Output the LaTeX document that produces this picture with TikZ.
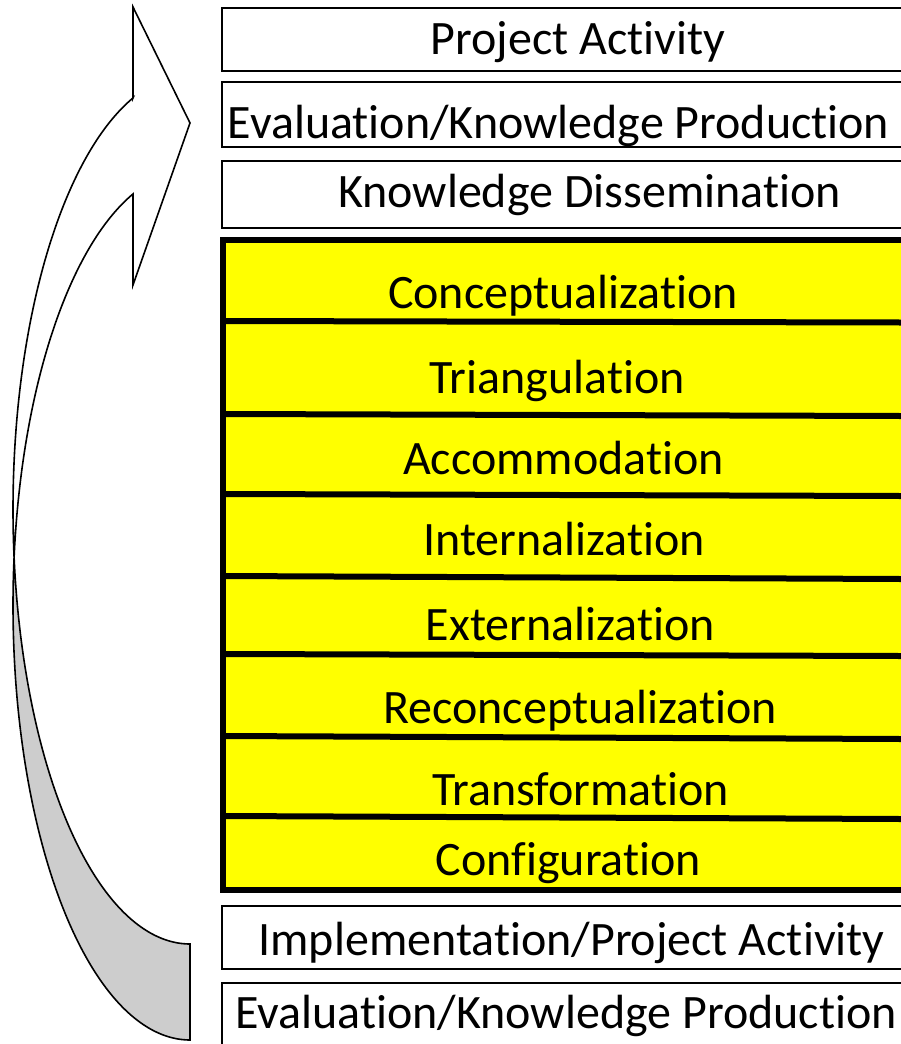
\documentclass[tikz,border=0pt]{standalone}
\usepackage{fontspec}
\setmainfont{Carlito}[Ligatures={NoCommon,NoContextual},RawFeature={-liga;-clig;-calt;-dlig}]
\definecolor{backgray}{RGB}{205,205,205}
\definecolor{ylw}{RGB}{255,255,0}
\begin{document}
\begin{tikzpicture}[x=1pt,y=-1pt,
  lbl/.style={anchor=base,inner sep=0pt,font=\fontsize{48}{48}\selectfont},
  wbox/.style={draw=black,line width=1.6pt,fill=white},
  divline/.style={draw=black,line width=6pt},
  arrowline/.style={draw=black,line width=1.6pt,line join=miter}
]
\useasboundingbox (0,0) rectangle (901,1044);
\clip (0,0) rectangle (901,1044);
\fill[white] (0,0) rectangle (901,1044);

% curved arrow: front face
\fill[white] (133,98) -- (133,7) -- (190,123) -- (133,285) -- (133,194)
  -- plot[domain=251.22:180,samples=80] ({190+177*cos(\x)},{605.4+434.6*sin(\x)})
  -- (13,509.4)
  -- plot[domain=180:251.22,samples=80] ({190+177*cos(\x)},{509.4+434.6*sin(\x)}) -- cycle;
% curved arrow: back face
\fill[backgray] plot[domain=180:90,samples=100] ({190+177*cos(\x)},{605.4+434.6*sin(\x)})
  -- (190,944)
  -- plot[domain=90:180,samples=100] ({190+177*cos(\x)},{509.4+434.6*sin(\x)}) -- cycle;
% curved arrow: outline
\draw[arrowline] (133,98)
  -- plot[domain=251.22:90,samples=200] ({190+177*cos(\x)},{509.4+434.6*sin(\x)})
  -- (190,1040)
  -- plot[domain=90:251.22,samples=200] ({190+177*cos(\x)},{605.4+434.6*sin(\x)})
  -- (133,285) -- (190,123) -- (133,7) -- cycle;

% white boxes
\draw[wbox] (222,8) rectangle (920,71);
\draw[wbox] (222,82) rectangle (920,147);
\draw[wbox] (222,161) rectangle (920,228);
\draw[wbox] (222,906) rectangle (920,969);
\draw[wbox] (222,983) rectangle (920,1070);

% yellow block
\fill[ylw] (222.5,240) rectangle (920,889.5);
\draw[divline] (222.5,321) -- (901,322.5);
\draw[divline] (222.5,414) -- (901,416);
\draw[divline] (222.5,494) -- (901,496);
\draw[divline] (222.5,576) -- (901,579);
\draw[divline] (222.5,654) -- (901,656);
\draw[divline] (222.5,736) -- (901,739);
\draw[divline] (222.5,816) -- (901,819);
\draw[divline,line join=miter] (920,240) -- (222.5,240) -- (222.5,889.5) -- (920,889.5);

% labels
\node[lbl] (pa) at (578,54) {Project Activity};
\node[lbl] (ekp1) at (558.5,138) {Evaluat\kern0pt ion/Knowledge Product\kern0pt ion};
\node[lbl] (kd) at (589.5,207) {Knowledge Disseminat\kern0pt ion};
\node[lbl] (c1) at (563,308) {Conceptualizat\kern0pt ion};
\node[lbl] (c2) at (557,393) {Triangulat\kern0pt ion};
\node[lbl] (c3) at (563.5,474) {Accommodat\kern0pt ion};
\node[lbl] (c4) at (564,555) {Internalizat\kern0pt ion};
\node[lbl] (c5) at (570.5,640) {Externalizat\kern0pt ion};
\node[lbl] (c6) at (580,723) {Reconceptualizat\kern0pt ion};
\node[lbl] (c7) at (580.5,805) {Transformat\kern0pt ion};
\node[lbl] (c8) at (568.5,875) {Configurat\kern0pt ion};
\node[lbl] (ipa) at (571.5,955) {Implementat\kern0pt ion/Project Activity};
\node[lbl] (ekp2) at (566,1028) {Evaluat\kern0pt ion/Knowledge Product\kern0pt ion};
\end{tikzpicture}
\end{document}
